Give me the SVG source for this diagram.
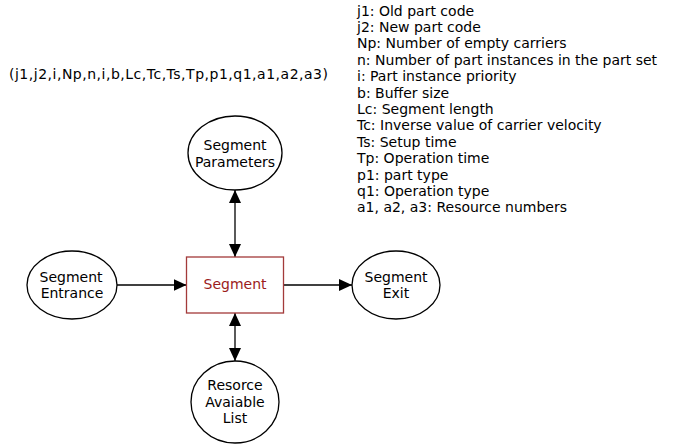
<svg xmlns="http://www.w3.org/2000/svg" width="688" height="447" viewBox="0 0 688 447">
  <style>
    text { font-family: "DejaVu Sans", Verdana, sans-serif; font-size: 14px; fill: #000; }
    .node ellipse { fill: #fff; stroke: #000; stroke-width: 1.3; }
    .node text { text-anchor: middle; }
    .box rect { fill: #fff; stroke: #a33a3a; stroke-width: 1.3; }
    .box text { fill: #9b1c1c; text-anchor: middle; }
    .edge { stroke: #000; stroke-width: 1.3; fill: none; }
  </style>
  <defs>
    <marker id="ah" viewBox="0 0 13 12" refX="13" refY="6" markerWidth="13" markerHeight="12" markerUnits="userSpaceOnUse" orient="auto-start-reverse">
      <path d="M0,0 L13,6 L0,12 Z" fill="#000"/>
    </marker>
  </defs>

  <rect width="688" height="447" fill="#fff"/>

  <!-- parameter tuple -->
  <text id="tuple" x="9" y="79" textLength="319" lengthAdjust="spacing">(j1,j2,i,Np,n,i,b,Lc,Tc,Ts,Tp,p1,q1,a1,a2,a3)</text>

  <!-- legend -->
  <g id="legend">
    <text x="357" y="15.5">j1: Old part code</text>
    <text x="357" y="31.9">j2: New part code</text>
    <text x="357" y="48.3">Np: Number of empty carriers</text>
    <text x="357" y="64.7">n: Number of part instances in the part set</text>
    <text x="357" y="81.1">i: Part instance priority</text>
    <text x="357" y="97.5">b: Buffer size</text>
    <text x="357" y="113.9">Lc: Segment length</text>
    <text x="357" y="130.3">Tc: Inverse value of carrier velocity</text>
    <text x="357" y="146.7">Ts: Setup time</text>
    <text x="357" y="163.1">Tp: Operation time</text>
    <text x="357" y="179.5">p1: part type</text>
    <text x="357" y="195.9">q1: Operation type</text>
    <text x="357" y="212.3">a1, a2, a3: Resource numbers</text>
  </g>

  <!-- connectors -->
  <g id="connectors">
    <line class="edge" x1="117" y1="285" x2="186.5" y2="285" marker-end="url(#ah)"/>
    <line class="edge" x1="283.5" y1="285" x2="352" y2="285" marker-end="url(#ah)"/>
    <line class="edge" x1="235" y1="190" x2="235" y2="257" marker-start="url(#ah)" marker-end="url(#ah)"/>
    <line class="edge" x1="235" y1="313" x2="235" y2="361" marker-start="url(#ah)" marker-end="url(#ah)"/>
  </g>

  <g id="segment-parameters" class="node">
    <ellipse cx="235" cy="153" rx="47" ry="37"/>
    <text x="235" y="150">Segment</text>
    <text x="235" y="167">Parameters</text>
  </g>

  <g id="segment-entrance" class="node">
    <ellipse cx="72" cy="285" rx="45" ry="34"/>
    <text x="71" y="282">Segment</text>
    <text x="72" y="298">Entrance</text>
  </g>

  <g id="segment" class="box">
    <rect x="186.5" y="257" width="97" height="56"/>
    <text x="235" y="288.5">Segment</text>
  </g>

  <g id="segment-exit" class="node">
    <ellipse cx="396" cy="285" rx="44" ry="34"/>
    <text x="396" y="282">Segment</text>
    <text x="396" y="298">Exit</text>
  </g>

  <g id="resource-list" class="node">
    <ellipse cx="235" cy="402" rx="44" ry="41"/>
    <text x="235" y="390">Resorce</text>
    <text x="235" y="406.5">Avaiable</text>
    <text x="235" y="422.5">List</text>
  </g>
</svg>
